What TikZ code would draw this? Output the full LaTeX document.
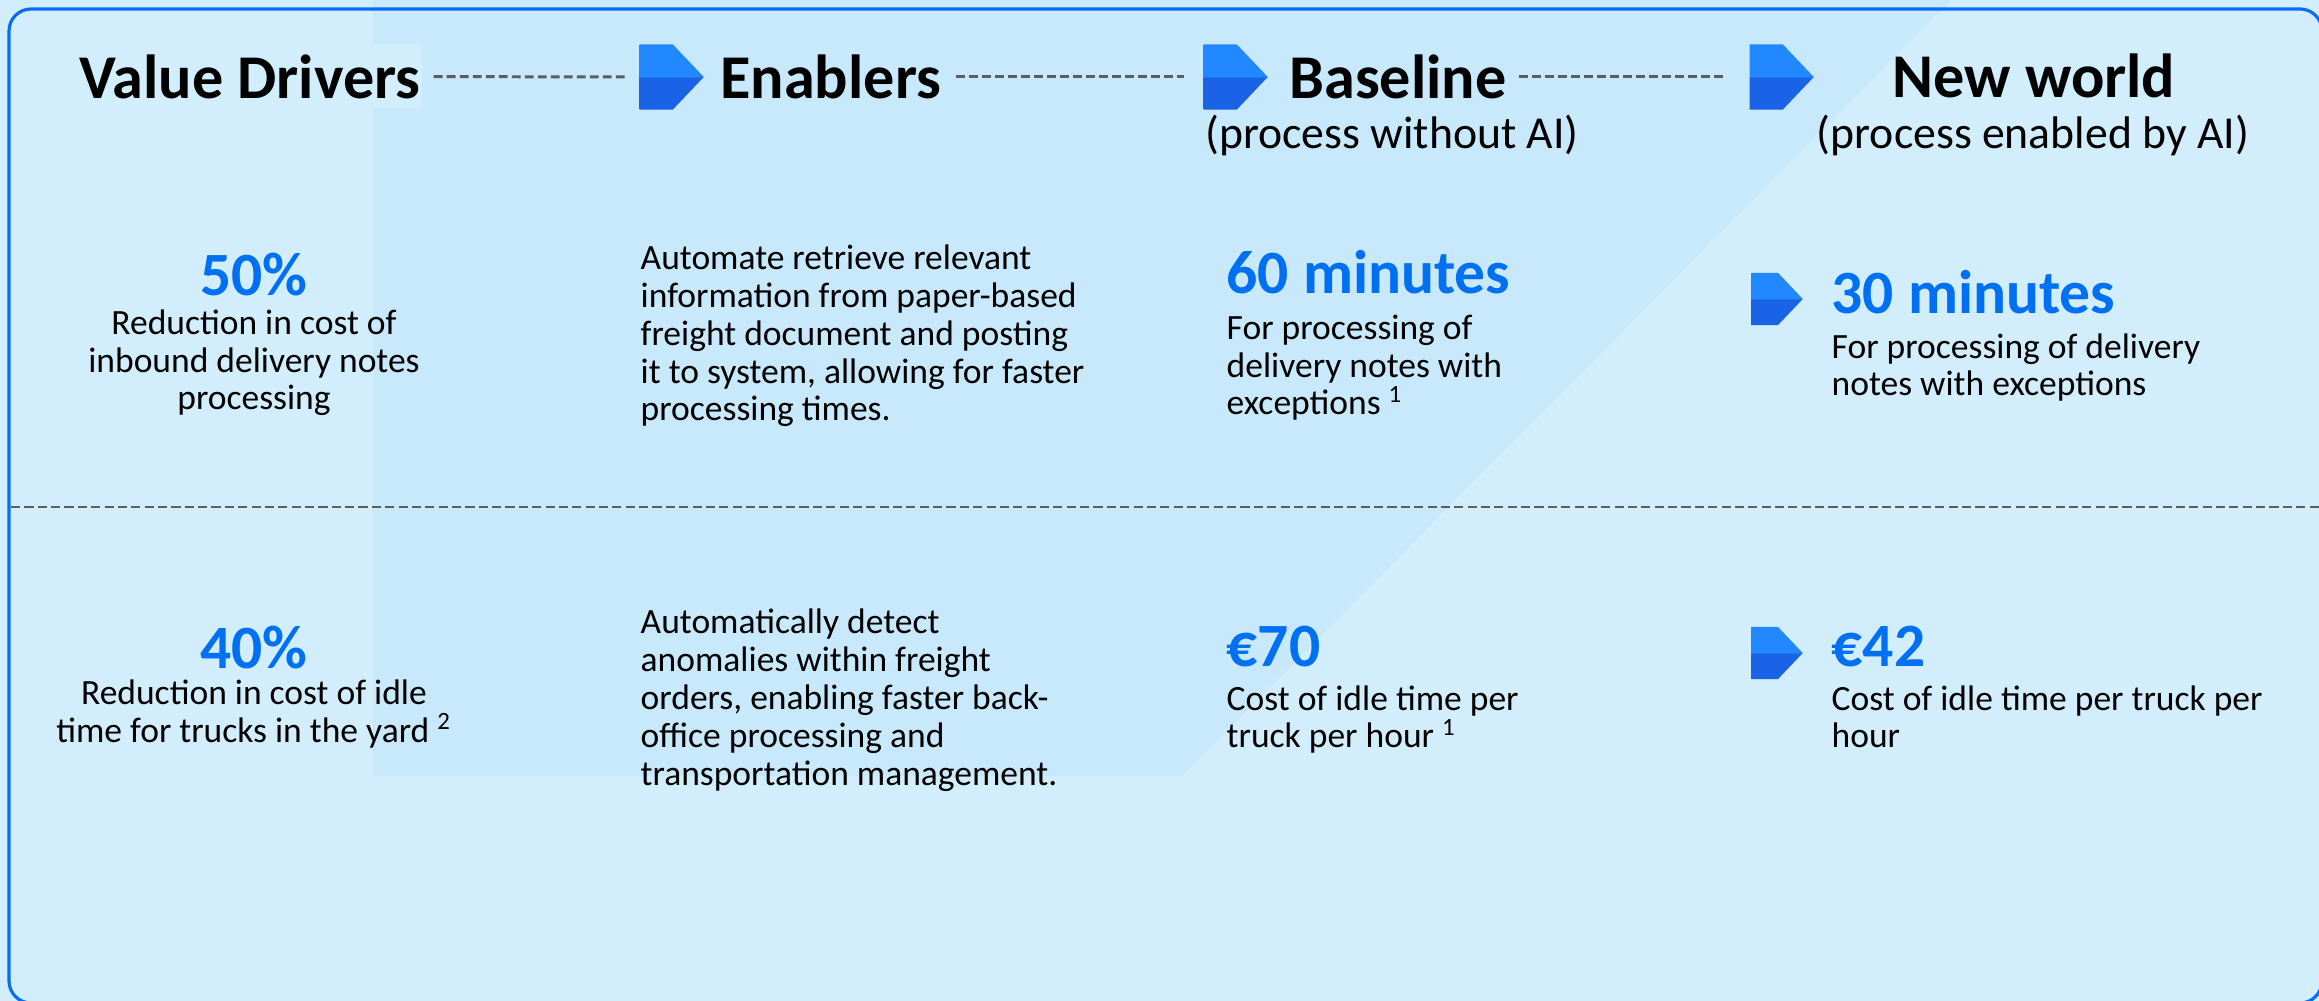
\documentclass[tikz,border=0pt]{standalone}
\usepackage{fontspec}
\setmainfont{Carlito}
\usetikzlibrary{positioning,shapes.symbols}

\definecolor{bglight}{HTML}{D2EEFD}
\definecolor{bgdark}{HTML}{C8E8FB}
\definecolor{framebl}{HTML}{0A6CF0}
\definecolor{figblue}{HTML}{0070F2}
\definecolor{arrtop}{HTML}{2288FF}
\definecolor{arrbot}{HTML}{1A62E6}
\definecolor{dashgray}{HTML}{5C5C5C}

\pgfdeclareverticalshading{twotone}{100bp}{color(0bp)=(arrbot); color(49.9bp)=(arrbot); color(50.1bp)=(arrtop); color(100bp)=(arrtop)}

\begin{document}
\begin{tikzpicture}[x=0.01cm, y=-0.01cm,
    hdr/.style={font=\fontsize{17.7}{20}\selectfont\bfseries, inner sep=0},
    sub/.style={font=\fontsize{13}{15}\selectfont, inner sep=0},
    num/.style={font=\fontsize{17.5}{20}\selectfont\bfseries, text=figblue, inner sep=0},
    body/.style={font=\fontsize{10.1}{10.8}\selectfont, inner sep=0, align=left},
    chevron/.style={signal, signal to=east, signal pointer angle=93, draw=none,
                    shade, shading=twotone, inner sep=0, anchor=west,
                    minimum width=0.64cm, minimum height=0.65cm},
    small/.style={minimum width=0.51cm, minimum height=0.52cm},
    link/.style={dashgray, line width=0.85pt, dash pattern=on 2.5pt off 1.2pt},
    divider/.style={dashgray, line width=0.85pt, dash pattern=on 2.6pt off 1.2pt}]
  \useasboundingbox (0,0) rectangle (2319,1001);
  % background and frame
  \fill[bglight] (0,0) rectangle (2319,1001);
  \fill[bgdark] (373,0) -- (1951,0) -- (1182,776) -- (373,776) -- cycle;
  \draw[framebl, line width=0.9pt, rounded corners=0.22cm] (9,9) rectangle (2322,1003);

  % header row
  \node[hdr, fill=bglight, inner xsep=0.5pt, text height=15.5pt, text depth=2.6pt,
        anchor=base west] (vd) at (77,99) {Value Drivers};
  \node[chevron] (ic1) at (639,77) {};
  \node[hdr, right=0.15cm of ic1] (en) {Enablers};
  \node[chevron] (ic2) at (1203,77) {};
  \node[hdr, right=0.2cm of ic2] (bl) {Baseline};
  \node[chevron] (ic3) at (1749,77) {};
  \node[hdr, anchor=base] (nw) at (2034,98) {New world};
  \node[sub, anchor=base] (blsub) at (1392,149) {(process without AI)};
  \node[sub, anchor=base] (nwsub) at (2033,149) {(process enabled by AI)};
  \draw[link, shorten <=3pt, shorten >=4pt] (vd) -- (ic1);
  \draw[link, shorten <=4pt, shorten >=5.4pt] (en) -- (ic2);
  \draw[link, shorten <=3.4pt, shorten >=6.8pt] (bl) -- (ic3);

  % first row (multi-line texts sit on their last baseline)
  \node[num, anchor=base] (p50) at (254,296) {50\%};
  \node[body, align=center, anchor=base] (p50t) at (254,410)
    {Reduction in cost of\\inbound delivery notes\\processing};
  \node[body, anchor=base west] (en1) at (640,421)
    {Automate retrieve relevant\\information from paper-based\\freight document and posting\\it to system, allowing for faster\\processing times.};
  \node[num, anchor=base west] (b60) at (1226,294) {60 minutes};
  \node[body, anchor=base west] (b60t) at (1226,415)
    {For processing of\\delivery notes with\\exceptions \textsuperscript{1}};
  \node[chevron, small] (ic4) at (1751,299) {};
  \node[num, anchor=base west] (n30) at (1831,314) {30 minutes};
  \node[body, anchor=base west] (n30t) at (1831,396)
    {For processing of delivery\\notes with exceptions};

  \draw[divider] (11,507) -- (2319,507);

  % second row
  \node[num, anchor=base] (p40) at (254,669) {40\%};
  \node[body, align=center, anchor=base] (p40t) at (254,742)
    {Reduction in cost of idle\\time for trucks in the yard \textsuperscript{2}};
  \node[body, anchor=base west] (en2) at (640,785)
    {Automatically detect\\anomalies within freight\\orders, enabling faster back-\\office processing and\\transportation management.};
  \node[num, anchor=base west] (b70) at (1226,667) {€70};
  \node[body, anchor=base west] (b70t) at (1226,748)
    {Cost of idle time per\\truck per hour \textsuperscript{1}};
  \node[chevron, small] (ic5) at (1751,653) {};
  \node[num, anchor=base west] (n42) at (1831,667) {€42};
  \node[body, anchor=base west] (n42t) at (1831,748)
    {Cost of idle time per truck per\\hour};
\end{tikzpicture}
\end{document}
